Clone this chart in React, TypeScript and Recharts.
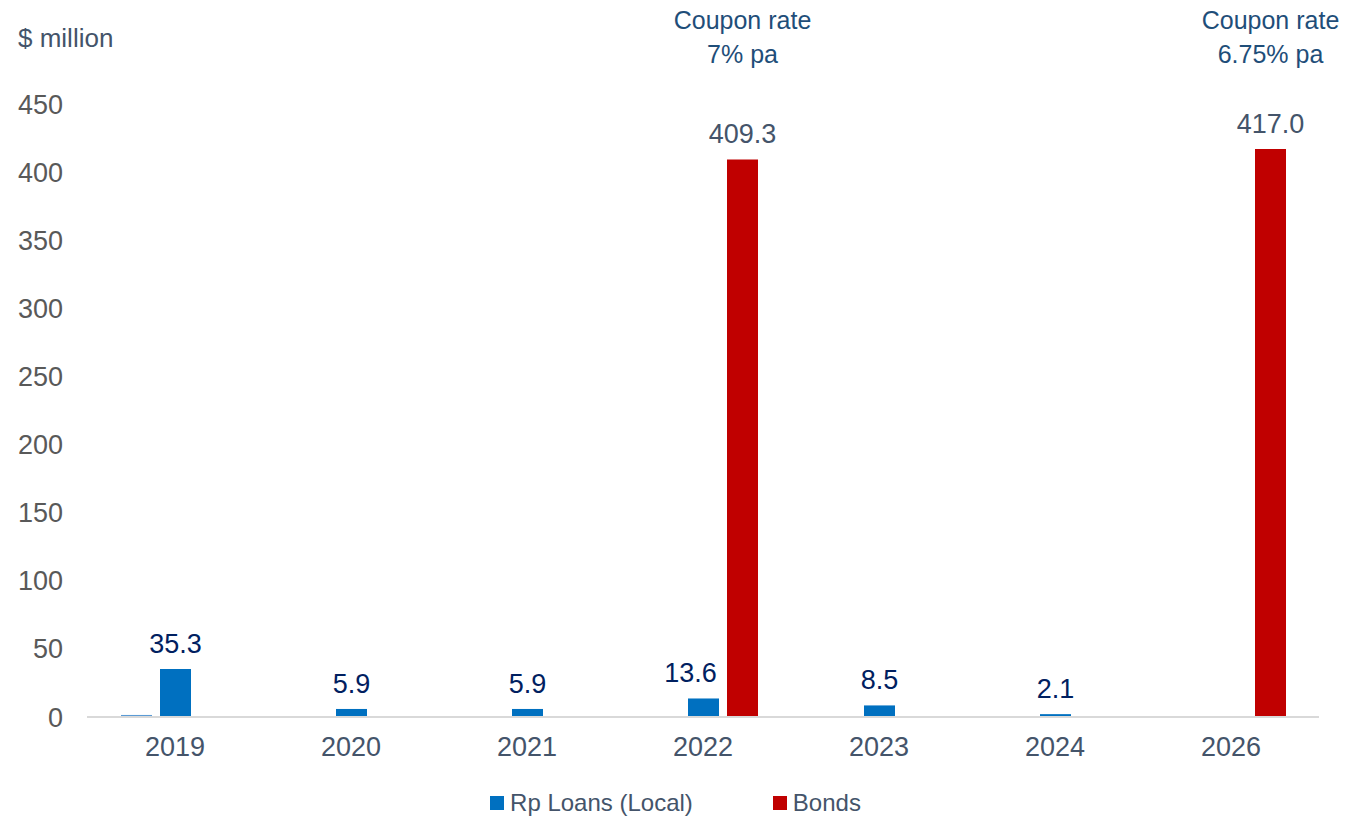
import React from "react"
import { BarChart, Bar, XAxis, YAxis, LabelList, Legend } from "recharts"

const years = ["2019", "2020", "2021", "2022", "2023", "2024", "2026"]
const otherLoans = [1.5, 0, 0, 0, 0, 0, 0]
const rpLoans = [35.3, 5.9, 5.9, 13.6, 8.5, 2.1, 0]
const bonds = [0, 0, 0, 409.3, 0, 0, 417.0]
const coupons = ["", "", "", "7% pa", "", "", "6.75% pa"]
const yTicks = [0, 50, 100, 150, 200, 250, 300, 350, 400, 450]

const data = years.map((year, i) => ({
  year,
  other: otherLoans[i],
  rp: rpLoans[i],
  bonds: bonds[i],
  coupon: coupons[i],
}))

const FONT = "'Liberation Sans', Arial, sans-serif"
const BLUE = "#0070C0"
const RED = "#C00000"

const valueLabel = (color: string, nudge: boolean) => (props: any) => {
  const { x, y, width, value, index } = props
  if (!value) return null
  // push the loan label left when a bond bar sits next to it
  const dx = nudge && bonds[index] ? -13 : 0
  return (
    <text x={x + width / 2 + dx} y={y - 16} textAnchor="middle" fill={color} fontSize={27} fontFamily={FONT}>
      {Number(value).toFixed(1)}
    </text>
  )
}

// coupon notes sit at a fixed height above the plot
const couponLabel = (props: any) => {
  const { x, width, value } = props
  if (!value) return null
  const cx = x + width / 2
  return (
    <text textAnchor="middle" fill="#1F4E79" fontSize={25} fontFamily={FONT}>
      <tspan x={cx} y={29}>Coupon rate</tspan>
      <tspan x={cx} y={63}>{value}</tspan>
    </text>
  )
}

const legendItems = [
  { name: "Rp Loans (Local)", color: BLUE },
  { name: "Bonds", color: RED },
]

const renderLegend = () => (
  <div style={{ height: 60, display: "flex", justifyContent: "center", alignItems: "flex-start", paddingTop: 32, paddingLeft: 32, gap: 80, fontFamily: FONT, fontSize: 24, color: "#44546A" }}>
    {legendItems.map((item) => (
      <div key={item.name} style={{ display: "flex", alignItems: "center" }}>
        <span style={{ width: 14, height: 14, background: item.color, marginRight: 6, display: "inline-block" }} />
        <span style={{ lineHeight: "28px" }}>{item.name}</span>
      </div>
    ))}
  </div>
)

export default function App() {
  return (
    <div style={{ position: "absolute", left: 0, top: 0, width: 1351, height: 817, background: "#fff" }}>
      <div style={{ position: "absolute", left: 18, top: 23, fontFamily: FONT, fontSize: 26, color: "#44546A" }}>$ million</div>
      <BarChart
        width={1351}
        height={817}
        data={data}
        margin={{ top: 104, right: 32, bottom: 0, left: 0 }}
        barSize={31}
        barGap={8}
      >
        <XAxis
          dataKey="year"
          height={40}
          tickLine={false}
          tickSize={0}
          tickMargin={20}
          axisLine={{ stroke: "#D9D9D9", strokeWidth: 2 }}
          tick={{ fill: "#44546A", fontSize: 27, fontFamily: FONT }}
        />
        <YAxis
          width={87}
          domain={[0, 450]}
          ticks={yTicks}
          axisLine={false}
          tickLine={false}
          tickSize={0}
          tickMargin={24}
          tick={{ fill: "#595959", fontSize: 27, fontFamily: FONT }}
        />
        <Legend verticalAlign="bottom" height={60} content={renderLegend} />
        <Bar dataKey="other" name="Other" fill="#5B9BD5" isAnimationActive={false} />
        <Bar dataKey="rp" name="Rp Loans (Local)" fill={BLUE} isAnimationActive={false}>
          <LabelList dataKey="rp" content={valueLabel("#002060", true)} />
        </Bar>
        <Bar dataKey="bonds" name="Bonds" fill={RED} isAnimationActive={false}>
          <LabelList dataKey="bonds" content={valueLabel("#44546A", false)} />
          <LabelList dataKey="coupon" content={couponLabel} />
        </Bar>
      </BarChart>
    </div>
  )
}
